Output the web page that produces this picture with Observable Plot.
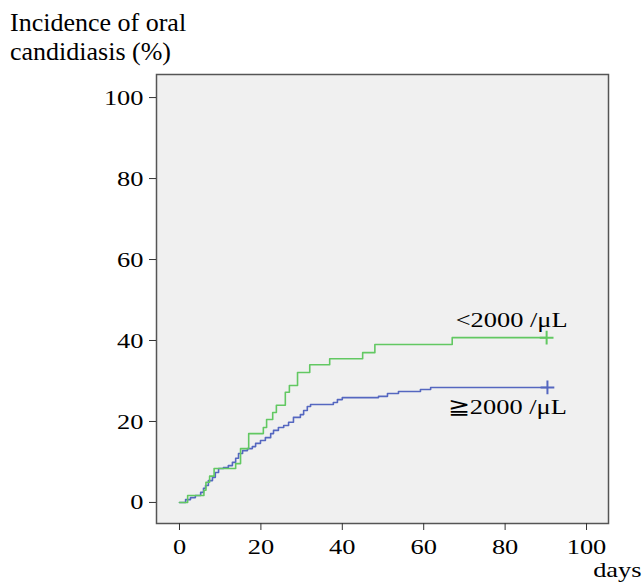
<!DOCTYPE html>
<html>
<head>
<meta charset="utf-8">
<script src="https://cdn.jsdelivr.net/npm/d3@7"></script>
<script src="https://cdn.jsdelivr.net/npm/@observablehq/plot@0.6"></script>
<style>
  body { margin: 0; background: #fff; }
  #wrap { position: relative; width: 644px; height: 583px; }
  #title { position: absolute; left: 10px; top: 8px; font-family: "Liberation Serif", serif; font-size: 25px; line-height: 29px; color: #000; transform: scaleX(1.04); transform-origin: 0 0; white-space: nowrap; }
  #chart { position: absolute; left: 0; top: 0; }
</style>
</head>
<body>
<div id="wrap">
  <div id="chart"></div>
  <div id="title">Incidence of oral<br>candidiasis (%)</div>
</div>
<script>
// Group < 2000 /μL (green)
const lowDays = [0, 2, 6, 6.5, 7.4, 8.5, 13.8, 15, 17, 20.6, 21.4, 22.9, 23.8, 26, 27, 29, 32, 36.9, 45, 48, 67, 90.2];
const lowPct  = [0, 1.7, 3, 5, 6.5, 8.4, 9.6, 13.3, 17, 18.5, 20.5, 22.2, 24, 27.2, 28.9, 32.1, 34, 35.5, 37, 39, 40.7, 40.7];
// Group ≧ 2000 /μL (blue)
const highDays = [0, 1.5, 2.7, 3.9, 5.2, 5.9, 6.4, 7.1, 8.1, 8.8, 9.6, 10.8, 12, 13, 13.8, 14.5, 15.5, 16.7, 17.9, 18.7, 19.9, 21.1, 22.4, 23.1, 24.3, 25.6, 26.8, 28, 29.7, 30.5, 31.4, 32.2, 37.8, 38.8, 40, 48.9, 51.1, 53.8, 59.2, 61.7, 90.4];
const highPct  = [0, 0.7, 1.2, 1.7, 2.5, 3.5, 4.2, 5.4, 6.2, 7.4, 8.4, 8.6, 9.1, 9.9, 10.9, 12.1, 12.8, 13.3, 13.8, 14.6, 15.3, 16, 17, 17.8, 18.5, 19, 19.8, 21, 21.7, 22.7, 23.7, 24.2, 24.7, 25.4, 25.9, 26.2, 26.9, 27.4, 27.9, 28.4, 28.4];
const groupNames = ["<2000 /μL", "≧2000 /μL"];
const xTicks = [0, 20, 40, 60, 80, 100];
const yTicks = [0, 20, 40, 60, 80, 100];

const green = "#62c862";
const blue = "#5567c0";

const low = lowDays.map((d, i) => ({day: d, pct: lowPct[i]}));
const high = highDays.map((d, i) => ({day: d, pct: highPct[i]}));
const lowEnd = [low[low.length - 1]];
const highEnd = [high[high.length - 1]];

const chart = Plot.plot({
  width: 644,
  height: 583,
  marginLeft: 156,
  marginRight: 36,
  marginTop: 74,
  marginBottom: 60,
  style: {fontFamily: "Liberation Serif, serif", fontSize: "22px", color: "#000", background: "transparent"},
  x: {domain: [-5.65, 105.4]},
  y: {domain: [-5.2, 105.7]},
  marks: [
    Plot.frame({fill: "#f0f0f0", stroke: "none"}),
    Plot.line(high, {x: "day", y: "pct", curve: "step-after", stroke: blue, strokeWidth: 1.6}),
    Plot.line(low, {x: "day", y: "pct", curve: "step-after", stroke: green, strokeWidth: 1.6}),
    Plot.dot(lowEnd, {x: "day", y: "pct", symbol: "plus", r: 4.5, stroke: green, strokeWidth: 2}),
    Plot.dot(highEnd, {x: "day", y: "pct", symbol: "plus", r: 4.5, stroke: blue, strokeWidth: 2}),
    Plot.text(lowEnd, {x: "day", y: "pct", text: () => groupNames[0], textAnchor: "middle", lineAnchor: "middle", dx: -35, dy: -18, fill: "#000"}),
    Plot.text(highEnd, {x: "day", y: "pct", text: () => groupNames[1], textAnchor: "middle", lineAnchor: "middle", dx: -40, dy: 19, fill: "#000"}),
    Plot.frame({stroke: "#555", strokeWidth: 1.5}),
    Plot.axisX({ticks: xTicks, tickSize: 7, tickPadding: 8, label: null, tickFormat: d => String(d), stroke: "#333"}),
    Plot.axisY({ticks: yTicks, tickSize: 7, tickPadding: 6, label: null, tickFormat: d => String(d), stroke: "#333"}),
    Plot.text(["days"], {frameAnchor: "bottom-right", textAnchor: "end", lineAnchor: "middle", dx: 33, dy: 46, fill: "#000"})
  ]
});

// horizontally widen glyphs about their anchor points (reference text is wide)
const S = 1.2;
chart.querySelectorAll("text").forEach(el => {
  const x = +(el.getAttribute("x") || 0);
  const t = el.getAttribute("transform") || "";
  el.setAttribute("transform", `${t} translate(${x},0) scale(${S},1) translate(${-x},0)`);
});

document.getElementById("chart").appendChild(chart);
</script>
</body>
</html>
